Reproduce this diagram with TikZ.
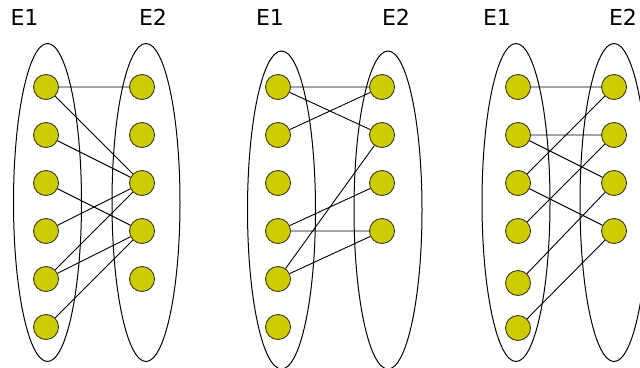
\documentclass[tikz,border=0pt]{standalone}
\usepackage{fontspec}
\setmainfont{DejaVu Sans}
\usetikzlibrary{shapes.geometric}
\definecolor{dotfill}{RGB}{204,204,0}
\definecolor{dotline}{RGB}{60,60,25}
\tikzstyle{yellowdot}=[circle,draw=dotline,fill=dotfill,line width=0.9pt,
                       inner sep=0pt,minimum size=25pt]
\tikzstyle{setshape}=[ellipse,draw=black,line width=1pt,
                      inner sep=0pt,minimum width=68pt,minimum height=318pt]
\tikzstyle{setname}=[font=\fontsize{22}{22}\selectfont,inner sep=0pt]

\begin{document}
\begin{tikzpicture}[x=1pt,y=-1pt,line width=0.9pt]
    \useasboundingbox (0,0) rectangle (640,367);
    % first pair of sets
    \node (aE1) at (47.5,202.5) [setshape]{};
    \node (aE2) at (146,202.5) [setshape]{};
    \node (at1) at (24.5,17.5) [setname]{E1};
    \node (at2) at (153,17.5) [setname]{E2};
    \node (aL1) at (46,87) [yellowdot]{};
    \node (aL2) at (46,135) [yellowdot]{};
    \node (aL3) at (46,183) [yellowdot]{};
    \node (aL4) at (46,231) [yellowdot]{};
    \node (aL5) at (46,279) [yellowdot]{};
    \node (aL6) at (46,327) [yellowdot]{};
    \node (aR1) at (142,87) [yellowdot]{};
    \node (aR2) at (142,135) [yellowdot]{};
    \node (aR3) at (142,183) [yellowdot]{};
    \node (aR4) at (142,231) [yellowdot]{};
    \node (aR5) at (142,279) [yellowdot]{};
    \draw (aL1) -- (aR1) (aL1) -- (aR3) (aL2) -- (aR3) (aL3) -- (aR4);
    \draw (aL4) -- (aR3) (aL5) -- (aR3) (aL5) -- (aR4) (aL6) -- (aR4);

    % second pair of sets
    \node (bE1) at (281.5,210) [setshape]{};
    \node (bE2) at (388,210) [setshape]{};
    \node (bt1) at (270,17.5) [setname]{E1};
    \node (bt2) at (396,17.5) [setname]{E2};
    \node (bL1) at (278,87) [yellowdot]{};
    \node (bL2) at (278,135) [yellowdot]{};
    \node (bL3) at (278,183) [yellowdot]{};
    \node (bL4) at (278,231) [yellowdot]{};
    \node (bL5) at (278,279) [yellowdot]{};
    \node (bL6) at (278,327) [yellowdot]{};
    \node (bR1) at (382,87) [yellowdot]{};
    \node (bR2) at (382,135) [yellowdot]{};
    \node (bR3) at (382,183) [yellowdot]{};
    \node (bR4) at (382,231) [yellowdot]{};
    \draw (bL1) -- (bR1) (bL1) -- (bR2) (bL2) -- (bR1) (bL4) -- (bR3);
    \draw (bL4) -- (bR4) (bL5) -- (bR2) (bL5) -- (bR4);

    % third pair of sets
    \node (cE1) at (516,202.5) [setshape]{};
    \node (cE2) at (614,202.5) [setshape]{};
    \node (ct1) at (497,17.5) [setname]{E1};
    \node (ct2) at (623,17.5) [setname]{E2};
    \node (cL1) at (518,87) [yellowdot]{};
    \node (cL2) at (518,135) [yellowdot]{};
    \node (cL3) at (518,183) [yellowdot]{};
    \node (cL4) at (518,231) [yellowdot]{};
    \node (cL5) at (518,283) [yellowdot]{};
    \node (cL6) at (518,328) [yellowdot]{};
    \node (cR1) at (614,87) [yellowdot]{};
    \node (cR2) at (614,135) [yellowdot]{};
    \node (cR3) at (614,183) [yellowdot]{};
    \node (cR4) at (614,231) [yellowdot]{};
    \draw (cL1) -- (cR1) (cL2) -- (cR2) (cL2) -- (cR3) (cL3) -- (cR1);
    \draw (cL3) -- (cR4) (cL4) -- (cR2) (cL5) -- (cR3) (cL6) -- (cR4);
\end{tikzpicture}
\end{document}
